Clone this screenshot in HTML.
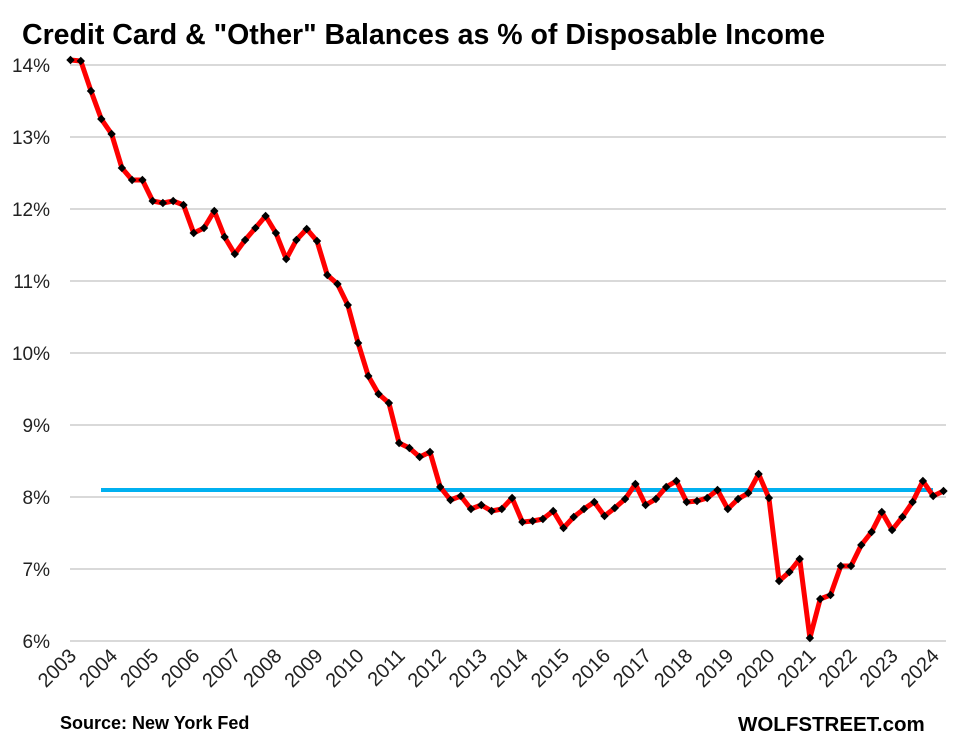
<!DOCTYPE html>
<html><head><meta charset="utf-8"><style>body{margin:0;background:#fff}svg{display:block}</style></head><body>
<svg width="953" height="751" xmlns="http://www.w3.org/2000/svg" font-family="Liberation Sans, Arial, sans-serif">
<defs>
<marker id="d" markerUnits="userSpaceOnUse" markerWidth="10" markerHeight="10" refX="5" refY="5" orient="0"><polygon points="5,0.8 9.2,5 5,9.2 0.8,5" fill="#000"/></marker>
</defs>
<rect width="953" height="751" fill="#fff"/>
<text x="22" y="44" font-size="28.5" font-weight="bold" fill="#000">Credit Card &amp; "Other" Balances as % of Disposable Income</text>
<g stroke="#d9d9d9" stroke-width="2">
<line x1="70" x2="946" y1="65" y2="65"/><line x1="70" x2="946" y1="137" y2="137"/><line x1="70" x2="946" y1="209" y2="209"/><line x1="70" x2="946" y1="281" y2="281"/><line x1="70" x2="946" y1="353" y2="353"/><line x1="70" x2="946" y1="425" y2="425"/><line x1="70" x2="946" y1="497" y2="497"/><line x1="70" x2="946" y1="569" y2="569"/><line x1="70" x2="946" y1="641" y2="641"/>
</g>
<g font-size="19" fill="#222" text-anchor="end">
<text x="50" y="72">14%</text><text x="50" y="144">13%</text><text x="50" y="216">12%</text><text x="50" y="288">11%</text><text x="50" y="360">10%</text><text x="50" y="432">9%</text><text x="50" y="504">8%</text><text x="50" y="576">7%</text><text x="50" y="648">6%</text>
</g>
<g font-size="20" fill="#222" text-anchor="end">
<text transform="translate(77.5,657) rotate(-45)">2003</text>
<text transform="translate(118.6,657) rotate(-45)">2004</text>
<text transform="translate(159.7,657) rotate(-45)">2005</text>
<text transform="translate(200.7,657) rotate(-45)">2006</text>
<text transform="translate(241.8,657) rotate(-45)">2007</text>
<text transform="translate(282.9,657) rotate(-45)">2008</text>
<text transform="translate(324.0,657) rotate(-45)">2009</text>
<text transform="translate(365.1,657) rotate(-45)">2010</text>
<text transform="translate(406.1,657) rotate(-45)">2011</text>
<text transform="translate(447.2,657) rotate(-45)">2012</text>
<text transform="translate(488.3,657) rotate(-45)">2013</text>
<text transform="translate(529.4,657) rotate(-45)">2014</text>
<text transform="translate(570.5,657) rotate(-45)">2015</text>
<text transform="translate(611.5,657) rotate(-45)">2016</text>
<text transform="translate(652.6,657) rotate(-45)">2017</text>
<text transform="translate(693.7,657) rotate(-45)">2018</text>
<text transform="translate(734.8,657) rotate(-45)">2019</text>
<text transform="translate(775.9,657) rotate(-45)">2020</text>
<text transform="translate(816.9,657) rotate(-45)">2021</text>
<text transform="translate(858.0,657) rotate(-45)">2022</text>
<text transform="translate(899.1,657) rotate(-45)">2023</text>
<text transform="translate(940.2,657) rotate(-45)">2024</text>
</g>
<line x1="101" x2="933" y1="490" y2="490" stroke="#00b0f0" stroke-width="4"/>
<polyline fill="none" stroke="#ff0000" stroke-width="5" stroke-linejoin="round" marker-start="url(#d)" marker-mid="url(#d)" marker-end="url(#d)" points="70.5,60 80.8,61 91.0,91 101.3,119 111.6,134 121.9,168 132.1,180 142.4,180 152.7,201 162.9,203 173.2,201 183.5,205 193.7,233 204.0,228 214.3,211 224.6,237 234.8,254 245.1,240 255.4,228 265.6,216 275.9,233 286.2,259 296.4,240 306.7,229 317.0,241 327.3,275 337.5,284 347.8,305 358.1,343 368.3,376 378.6,394 388.9,403 399.1,443 409.4,448 419.7,457 430.0,452 440.2,487 450.5,500 460.8,496 471.0,509 481.3,505 491.6,511 501.8,509 512.1,498 522.4,522 532.7,521 542.9,519 553.2,511 563.5,528 573.7,517 584.0,509 594.3,502 604.5,516 614.8,508 625.1,499 635.4,484 645.6,505 655.9,499 666.2,487 676.4,481 686.7,502 697.0,501 707.2,498 717.5,490 727.8,509 738.1,499 748.3,493 758.6,474 768.9,498 779.1,581 789.4,572 799.7,559 809.9,638 820.2,599 830.5,595 840.8,566 851.0,566 861.3,545 871.6,532 881.8,512 892.1,530 902.4,517 912.6,502 922.9,481 933.2,496 943.5,491"/>
<text x="60" y="729" font-size="18" font-weight="bold" fill="#000">Source: New York Fed</text>
<text x="738" y="731" font-size="20.5" font-weight="bold" fill="#000">WOLFSTREET.com</text>
</svg>
</body></html>
